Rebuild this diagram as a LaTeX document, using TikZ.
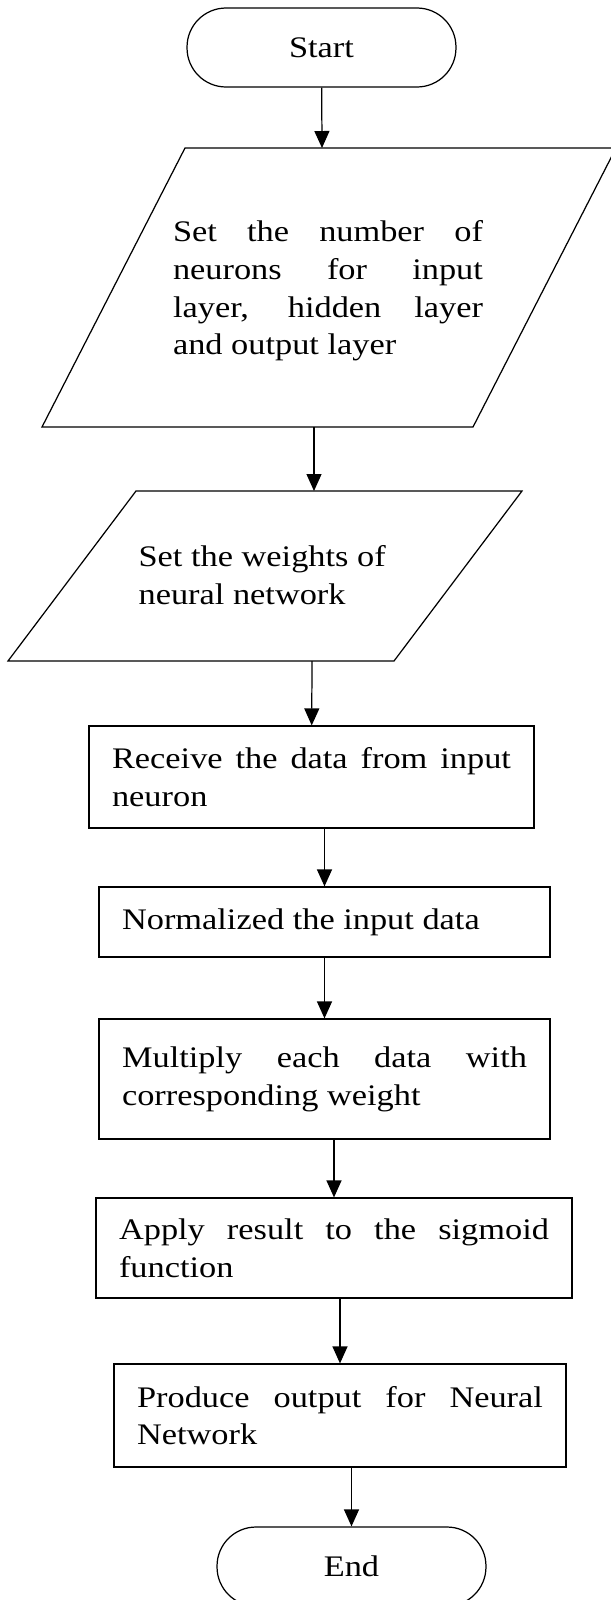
\documentclass[tikz,border=0pt]{standalone}
\usepackage{fontspec}
\setmainfont{Liberation Serif}[FakeStretch=1.15]
\usetikzlibrary{arrows.meta}
\hyphenpenalty=10000
\exhyphenpenalty=10000

\begin{document}
\begin{tikzpicture}[x=0.02cm, y=-0.02cm, line width=0.7pt,
		font=\fontsize{17pt}{21.5pt}\selectfont,
		term/.style={draw, rounded corners=0.78cm, minimum width=5.38cm, minimum height=1.58cm},
		proc/.style={draw, rectangle, align=justify, inner xsep=0.46cm, inner ysep=0pt},
		ptext/.style={inner sep=0pt, align=justify},
		arr/.style={-{Triangle[length=0.34cm, width=0.3cm]}}]
			\useasboundingbox (0,0) rectangle (611,1600);

			% Draw the start and end terminals
			\node[term] (start) at (321.5,47.5) {Start};
			\node[term] (end) at (351.5,1566.5) {End};

			% Draw the two input parallelograms
			\draw (185,148) -- (616,148) -- (473,427) -- (42,427) -- cycle;
			\node[ptext, text width=6.2cm] (p1) at (328,291) {Set the number of\linebreak neurons for input\linebreak layer, hidden layer\linebreak and output layer};
			\coordinate (p1in) at (322,148);
			\coordinate (p1out) at (314,427);

			\draw (136,491) -- (522,491) -- (394,661) -- (8,661) -- cycle;
			\node[ptext, anchor=west, align=left] (p2) at (138,575) {Set the weights of\\neural network};
			\coordinate (p2in) at (314,491);
			\coordinate (p2out) at (312,661);

			% Draw the process boxes
			\node[proc, text width=7.98cm, minimum height=2.04cm] (b3) at (311.5,777) {Receive the data from input\linebreak neuron};
			\node[proc, text width=8.1cm, minimum height=1.4cm] (b4) at (324.5,922) {Normalized the input data};
			\node[proc, text width=8.1cm, minimum height=2.4cm] (b5) at (324.5,1079) {Multiply each data with\linebreak corresponding weight};
			\node[proc, text width=8.6cm, minimum height=2cm] (b6) at (334,1248) {Apply result to the sigmoid\linebreak function};
			\node[proc, text width=8.12cm, minimum height=2.06cm] (b7) at (340,1415.5) {Produce output for Neural\linebreak Network};

			% Draw the arrows
			\draw[arr] (start) -- (p1in);
			\draw[arr] (p1out) -- (p2in);
			\draw[arr] (p2out) -- (b3);
			\draw[arr] (b3.south -| b4) -- (b4);
			\draw[arr] (b4.south -| b5) -- (b5);
			\draw[arr] (b5.south -| b6) -- (b6);
			\draw[arr] (b6.south -| b7) -- (b7);
			\draw[arr] (b7.south -| end) -- (end);
		\end{tikzpicture}
\end{document}
